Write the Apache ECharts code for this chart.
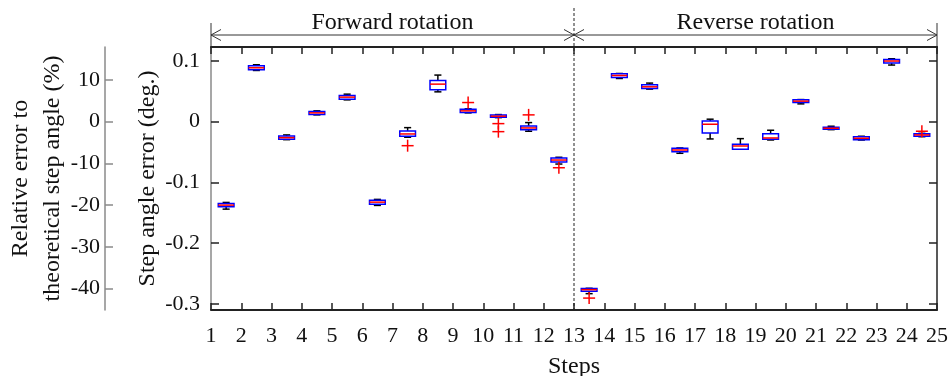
<!DOCTYPE html>
<html><head><meta charset="utf-8">
<script src="https://cdn.jsdelivr.net/npm/echarts@6/dist/echarts.min.js"></script>
<style>html,body{margin:0;padding:0;background:#fff}#c{width:951px;height:376px}</style>
</head><body><div id="c"></div>
<script>
// ---- data (degrees) ----
const steps = [1,2,3,4,5,6,7,8,9,10,11,12,13,14,15,16,17,18,19,20,21,22,23,24];
const whiskerHigh = [-0.1332,0.0934,-0.0221,0.0175,0.0450,-0.1282,-0.0101,0.0764,0.0208,0.0114,-0.0018,-0.0589,-0.2745,0.0790,0.0632,-0.0436,0.0038,-0.0282,-0.0144,0.0361,-0.0078,-0.0243,0.1033,-0.0195];
const q3 = [-0.1348,0.0917,-0.0238,0.0163,0.0427,-0.1294,-0.0155,0.0675,0.0203,0.0109,-0.0073,-0.0601,-0.2750,0.0785,0.0604,-0.0441,0.0010,-0.0375,-0.0200,0.0356,-0.0094,-0.0249,0.1021,-0.0200];
const median = [-0.1376,0.0884,-0.0266,0.0142,0.0401,-0.1327,-0.0205,0.0615,0.0175,0.0087,-0.0106,-0.0634,-0.2767,0.0757,0.0571,-0.0469,-0.0045,-0.0403,-0.0271,0.0335,-0.0111,-0.0276,0.0995,-0.0221];
const q1 = [-0.1404,0.0851,-0.0292,0.0114,0.0368,-0.1360,-0.0243,0.0521,0.0147,0.0071,-0.0134,-0.0667,-0.2795,0.0724,0.0543,-0.0497,-0.0188,-0.0457,-0.0292,0.0312,-0.0127,-0.0299,0.0962,-0.0243];
const whiskerLow = [-0.1442,0.0840,-0.0299,0.0109,0.0356,-0.1381,-0.0259,0.0488,0.0142,0.0064,-0.0160,-0.0700,-0.2833,0.0708,0.0533,-0.0523,-0.0287,-0.0457,-0.0304,0.0290,-0.0134,-0.0304,0.0929,-0.0250];
const outlierStep = [7,9,10,10,11,12,13,24];
const outlierValue = [-0.0398,0.0312,-0.0035,-0.0167,0.0109,-0.0761,-0.2906,-0.0160];

// ---- axes / ticks ----
const xTicks = [1,2,3,4,5,6,7,8,9,10,11,12,13,14,15,16,17,18,19,20,21,22,23,24,25];
const degTicks = [-0.3,-0.2,-0.1,0,0.1];
const pctTicks = [-40,-30,-20,-10,0,10];
const degMin = -0.3102, degMax = 0.1226;
const theoreticalStep = 0.6875; // deg
const pctMin = degMin / theoreticalStep * 100, pctMax = degMax / theoreticalStep * 100;
const sectionLabels = ['Forward rotation','Reverse rotation'];
const sectionBounds = [1,13,25];

const FONT = "Liberation Serif, Times New Roman, serif";
const TXT = '#111';

const boxData = steps.map((s,i)=>[s+0.5, whiskerLow[i], q1[i], median[i], q3[i], whiskerHigh[i]]);
const outData = outlierStep.map((s,i)=>[s+0.5, outlierValue[i]]);

function renderBox(params, api){
  const x = api.value(0);
  const pLow = api.coord([x, api.value(1)]);
  const pQ1 = api.coord([x, api.value(2)]);
  const pMed = api.coord([x, api.value(3)]);
  const pQ3 = api.coord([x, api.value(4)]);
  const pHigh = api.coord([x, api.value(5)]);
  const px = pMed[0];
  const hw = api.size([1,0])[0]*0.26;
  const cw = hw*0.45;
  const blk = {stroke:'#000', lineWidth:1.5};
  return {type:'group', children:[
    {type:'line', shape:{x1:px,y1:pHigh[1],x2:px,y2:pQ3[1]}, style:blk},
    {type:'line', shape:{x1:px,y1:pQ1[1],x2:px,y2:pLow[1]}, style:blk},
    {type:'line', shape:{x1:px-cw,y1:pHigh[1],x2:px+cw,y2:pHigh[1]}, style:blk},
    {type:'line', shape:{x1:px-cw,y1:pLow[1],x2:px+cw,y2:pLow[1]}, style:blk},
    {type:'rect', shape:{x:px-hw,y:pQ3[1],width:2*hw,height:Math.max(pQ1[1]-pQ3[1],1.5)}, style:{fill:'#fff',stroke:'#0000ff',lineWidth:1.5}},
    {type:'line', shape:{x1:px-hw,y1:pMed[1],x2:px+hw,y2:pMed[1]}, style:{stroke:'#ff0000',lineWidth:1.5}}
  ]};
}
function renderPlus(params, api){
  const p = api.coord([api.value(0), api.value(1)]);
  const s = 6;
  const st = {stroke:'#ff0000', lineWidth:1.5};
  return {type:'group', children:[
    {type:'line', shape:{x1:p[0]-s,y1:p[1],x2:p[0]+s,y2:p[1]}, style:st},
    {type:'line', shape:{x1:p[0],y1:p[1]-s,x2:p[0],y2:p[1]+s}, style:st}
  ]};
}

const chart = echarts.init(document.getElementById('c'), null, {renderer:'canvas'});
const tickStyle = {color:'#222', width:1.5};
chart.setOption({
  animation:false,
  backgroundColor:'#fff',
  grid:{left:211, right:14, top:47, bottom:66, containLabel:false, outerBoundsMode:'none'},
  xAxis:[
    {type:'value', position:'bottom', min:1, max:25, interval:1,
     axisLine:{show:true, onZero:false, lineStyle:{color:'#222', width:2}},
     axisTick:{show:true, inside:true, length:7, lineStyle:tickStyle},
     axisLabel:{show:true, margin:15, fontSize:22, fontFamily:FONT, color:TXT, formatter:(v)=>String(v), customValues:xTicks},
     splitLine:{show:false},
     name:'Steps', nameLocation:'middle', nameGap:45, nameMoveOverlap:false, nameTextStyle:{fontSize:24, fontFamily:FONT, color:TXT}},
    {type:'value', position:'top', min:1, max:25, interval:1,
     axisLine:{show:true, onZero:false, lineStyle:{color:'#222', width:2}},
     axisTick:{show:true, inside:true, length:7, lineStyle:tickStyle},
     axisLabel:{show:false}, splitLine:{show:false}}
  ],
  yAxis:[
    {type:'value', position:'left', min:degMin, max:degMax,
     axisLine:{show:true, onZero:false, lineStyle:{color:'#8a8a8a', width:1.5}},
     axisTick:{show:true, inside:true, length:8, lineStyle:tickStyle, customValues:degTicks},
     axisLabel:{show:true, margin:11, fontSize:22, fontFamily:FONT, color:TXT, customValues:degTicks, formatter:(v)=>String(Math.round(v*10)/10)},
     splitLine:{show:false},
     name:'Step angle error (deg.)', nameLocation:'middle', nameGap:51, nameRotate:90, nameMoveOverlap:false,
     nameTextStyle:{fontSize:24, fontFamily:FONT, color:TXT}},
    {type:'value', position:'left', offset:106, min:pctMin, max:pctMax,
     axisLine:{show:true, onZero:false, lineStyle:{color:'#8a8a8a', width:1.5}},
     axisTick:{show:true, inside:true, length:8, lineStyle:{color:'#8a8a8a', width:1.5}, customValues:pctTicks},
     axisLabel:{show:true, margin:5, fontSize:22, fontFamily:FONT, color:TXT, customValues:pctTicks, formatter:(v)=>String(Math.round(v))},
     splitLine:{show:false},
     name:'Relative error to\ntheoretical step angle (%)', nameLocation:'middle', nameGap:36, nameRotate:90, nameMoveOverlap:false,
     nameTextStyle:{fontSize:24, fontFamily:FONT, color:TXT, lineHeight:32}},
    {type:'value', position:'right', min:degMin, max:degMax,
     axisLine:{show:true, onZero:false, lineStyle:{color:'#222', width:1.5}},
     axisTick:{show:true, inside:true, length:8, lineStyle:tickStyle, customValues:degTicks},
     axisLabel:{show:false}, splitLine:{show:false}}
  ],
  series:[
    {type:'custom', name:'box', xAxisIndex:0, yAxisIndex:0, renderItem:renderBox, data:boxData, encode:{x:0, y:[1,2,3,4,5]}, z:3},
    {type:'custom', name:'outliers', xAxisIndex:0, yAxisIndex:0, renderItem:renderPlus, data:outData, encode:{x:0, y:1}, z:4}
  ]
});

// annotation overlay positioned through the axes
const xp = sectionBounds.map(v=>chart.convertToPixel({xAxisIndex:0}, v));
const yTop = chart.convertToPixel({yAxisIndex:0}, degMax);
const yBot = chart.convertToPixel({yAxisIndex:0}, degMin);
const ay = 35, ah = 10, aw = 5.5;
const ln = {stroke:'#333', lineWidth:1};
const g = [];
g.push({type:'line', shape:{x1:xp[1],y1:8,x2:xp[1],y2:yBot}, style:{stroke:'#222',lineWidth:1,lineDash:[3,2]}, z:10});
g.push({type:'line', shape:{x1:xp[0],y1:23,x2:xp[0],y2:yTop}, style:ln});
g.push({type:'line', shape:{x1:xp[2],y1:23,x2:xp[2],y2:yTop}, style:ln});
for (let k=0;k<2;k++){
  const a=xp[k], b=xp[k+1];
  g.push({type:'line', shape:{x1:a,y1:ay,x2:b,y2:ay}, style:ln});
  g.push({type:'polyline', shape:{points:[[a+ah,ay-aw],[a,ay],[a+ah,ay+aw]]}, style:{stroke:'#333',lineWidth:1,fill:null}});
  g.push({type:'polyline', shape:{points:[[b-ah,ay-aw],[b,ay],[b-ah,ay+aw]]}, style:{stroke:'#333',lineWidth:1,fill:null}});
  g.push({type:'text', x:(a+b)/2, y:22.5, style:{text:sectionLabels[k], fontSize:24, fontFamily:FONT, fill:TXT, align:'center', verticalAlign:'middle'}});
}
chart.setOption({graphic:g});
</script>
</body></html>
